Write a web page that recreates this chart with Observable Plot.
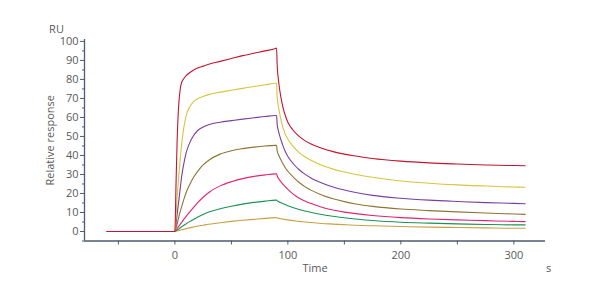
<!DOCTYPE html>
<html>
<head>
<meta charset="utf-8">
<script src="https://cdn.jsdelivr.net/npm/d3@7"></script>
<script src="https://cdn.jsdelivr.net/npm/@observablehq/plot@0.6"></script>
<style>
  html, body { margin: 0; padding: 0; background: #fff; }
</style>
</head>
<body>
<div id="chart"></div>
<script>
const times = [-60, -30, 0, 1, 2, 3, 4, 5, 6, 8, 10, 13, 16, 20, 25, 30, 40, 50, 60, 70, 80, 89,
  90, 90.5, 92, 94, 96, 98, 100, 105, 110, 115, 120, 130, 140, 150, 160, 175, 200, 225, 250, 275, 300, 310];

const conc1 = [0, 0, 0, 25, 48, 63, 71, 76, 78.5, 80.5, 82, 83.5, 84.7, 86, 87, 88, 89.5, 91, 92.5, 93.8, 95, 96.3,
  96.5, 88, 78, 70, 64.5, 60.5, 57.5, 53, 50, 47.8, 46.2, 43.8, 42, 40.7, 39.7, 38.4, 37, 36.1, 35.5, 35, 34.7, 34.6];
const conc2 = [0, 0, 0, 9, 18, 26, 33, 40, 46, 55, 61, 65.5, 68, 69.8, 71, 72, 73.3, 74.3, 75.3, 76.3, 77.2, 78,
  78, 71, 64.5, 58.5, 54, 50.8, 48.5, 44.5, 41.5, 39.3, 37.6, 34.8, 32.8, 31.3, 30, 28.5, 26.6, 25.4, 24.5, 23.9, 23.4, 23.3];
const conc3 = [0, 0, 0, 4, 9, 14, 19, 24, 29, 36, 41.5, 46.5, 50, 53, 55, 56.2, 57.5, 58.3, 59.1, 59.8, 60.5, 61,
  61, 56.5, 52, 48, 44.5, 41.7, 39.5, 35.5, 32.5, 30.2, 28.3, 25.5, 23.4, 21.8, 20.5, 19, 17.5, 16.5, 15.8, 15.2, 14.8, 14.6];
const conc4 = [0, 0, 0, 2, 4, 6.5, 9, 11, 13, 17, 20.5, 24.5, 28, 31.5, 35, 37.5, 40.7, 42.5, 43.6, 44.4, 45, 45.3,
  45.3, 42.5, 40, 37.5, 35.2, 33.3, 31.7, 28.5, 25.8, 23.6, 21.9, 19.2, 17.2, 15.7, 14.5, 13.2, 11.8, 11, 10.3, 9.7, 9.2, 9];
const conc5 = [0, 0, 0, 0.8, 1.6, 2.4, 3.2, 4, 4.8, 6.5, 8, 10.2, 12.3, 15, 18, 20.5, 24, 26.2, 27.8, 29, 29.8, 30.3,
  30.3, 29.3, 27.6, 26, 24.6, 23.3, 22.2, 19.5, 17.5, 16, 14.8, 12.8, 11.3, 10.2, 9.4, 8.4, 7.3, 6.6, 6.1, 5.7, 5.3, 5.2];
const conc6 = [0, 0, 0, 0.4, 0.8, 1.2, 1.6, 2.1, 2.5, 3.3, 4.1, 5.2, 6.2, 7.5, 9, 10.2, 12, 13.3, 14.4, 15.3, 16, 16.5,
  16.5, 16.2, 15.7, 15.1, 14.6, 14.1, 13.6, 12.5, 11.6, 10.8, 10.1, 8.9, 8, 7.2, 6.6, 5.8, 4.9, 4.4, 4, 3.7, 3.5, 3.5];
const conc7 = [0, 0, 0, 0.15, 0.3, 0.45, 0.6, 0.75, 0.9, 1.2, 1.5, 1.9, 2.3, 2.8, 3.3, 3.8, 4.6, 5.3, 5.9, 6.4, 6.9, 7.3,
  7.3, 7.1, 6.9, 6.7, 6.5, 6.3, 6.1, 5.7, 5.3, 5, 4.7, 4.2, 3.9, 3.6, 3.3, 3, 2.6, 2.3, 2.1, 1.9, 1.7, 1.7];

const seriesNames  = ["c7", "c6", "c5", "c4", "c3", "c2", "c1"];
const seriesValues = [conc7, conc6, conc5, conc4, conc3, conc2, conc1];
const seriesColors = ["#c9a043", "#1a9455", "#e2246e", "#8f7434", "#7a3f9e", "#d8c53c", "#c4152f"];

const xMajorTicks = [0, 100, 200, 300];
const xMinorTicks = [-50, 50, 150, 250];
const yMajorTicks = [0, 10, 20, 30, 40, 50, 60, 70, 80, 90, 100];
const yMinorTicks = [-5, 5, 15, 25, 35, 45, 55, 65, 75, 85, 95];
const xDomain = [-80, 328];
const yDomain = [-5, 101];

const rows = [];
seriesValues.forEach((vals, i) => {
  times.forEach((t, j) => rows.push({series: seriesNames[i], t, v: vals[j]}));
});

const axisColor = "#4d5b6e";
const textColor = "#5a5a5a";

const chart = Plot.plot({
  width: 600,
  height: 300,
  marginLeft: 84,
  marginRight: 55,
  marginTop: 39,
  marginBottom: 59.5,
  style: {fontFamily: "'Open Sans', 'Noto Sans', sans-serif", fontSize: "11px", color: textColor, background: "#fff"},
  x: {domain: xDomain},
  y: {domain: yDomain},
  color: {type: "ordinal", domain: seriesNames, range: seriesColors},
  marks: [
    Plot.ruleY([yDomain[0]], {stroke: axisColor, strokeWidth: 1.3}),
    Plot.ruleX([xDomain[0]], {stroke: axisColor, strokeWidth: 1.3}),
    Plot.axisX({ticks: xMajorTicks, tickSize: 4, tickPadding: 6, stroke: axisColor, color: textColor, label: null}),
    Plot.axisX({ticks: xMinorTicks, tickSize: 4, tickFormat: () => "", stroke: axisColor, label: null}),
    Plot.axisY({ticks: yMajorTicks, tickSize: 4, tickPadding: 2, stroke: axisColor, color: textColor, label: null}),
    Plot.axisY({ticks: yMinorTicks, tickSize: 2, tickFormat: () => "", stroke: axisColor, label: null}),
    Plot.line(rows, {x: "t", y: "v", z: "series", stroke: "series", strokeWidth: 1.1, curve: "monotone-x"}),
    Plot.text(["RU"], {frameAnchor: "top-left", lineAnchor: "middle", textAnchor: "middle", dx: -28, dy: -10, fill: textColor, fontSize: 11}),
    Plot.text(["Relative response"], {frameAnchor: "left", textAnchor: "middle", lineAnchor: "middle", dx: -34, rotate: -90, fill: textColor, fontSize: 11}),
    Plot.text(["Time"], {frameAnchor: "bottom", lineAnchor: "middle", dy: 27.5, fill: textColor, fontSize: 11}),
    Plot.text(["s"], {frameAnchor: "bottom-right", lineAnchor: "middle", textAnchor: "middle", dx: 3, dy: 27, fill: textColor, fontSize: 11})
  ]
});
document.getElementById("chart").appendChild(chart);
</script>
</body>
</html>
